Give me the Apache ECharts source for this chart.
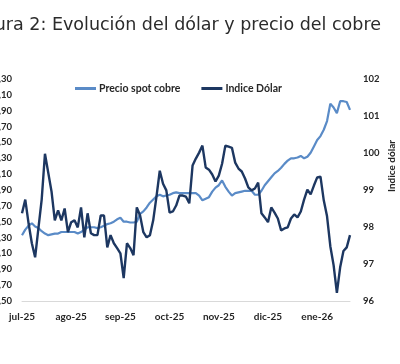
<!DOCTYPE html>
<html>
<head>
<meta charset="utf-8">
<script src="https://cdn.jsdelivr.net/npm/echarts@6/dist/echarts.min.js"></script>
<style>
html,body{margin:0;padding:0;background:#fff;}
#chart{width:400px;height:364px;}
</style>
</head>
<body>
<div id="chart"></div>
<script>
const titleText = 'Figura 2: Evolución del dólar y precio del cobre';
const seriesNames = ['Precio spot cobre', 'Indice Dólar'];
const rightAxisName = 'Indice dólar';

const dates = [
  '2025-07-01','2025-07-03','2025-07-05','2025-07-07','2025-07-09','2025-07-11','2025-07-13','2025-07-15','2025-07-17','2025-07-19','2025-07-21','2025-07-23','2025-07-25','2025-07-27','2025-07-29',
  '2025-08-01','2025-08-03','2025-08-05','2025-08-07','2025-08-09','2025-08-11','2025-08-13','2025-08-15','2025-08-17','2025-08-19','2025-08-21','2025-08-23','2025-08-25','2025-08-27','2025-08-29',
  '2025-09-01','2025-09-03','2025-09-05','2025-09-07','2025-09-09','2025-09-11','2025-09-13','2025-09-15','2025-09-17','2025-09-19','2025-09-21','2025-09-23','2025-09-25','2025-09-27','2025-09-29',
  '2025-10-01','2025-10-03','2025-10-05','2025-10-07','2025-10-09','2025-10-11','2025-10-13','2025-10-15','2025-10-17','2025-10-19','2025-10-21','2025-10-23','2025-10-25','2025-10-27','2025-10-29',
  '2025-11-01','2025-11-03','2025-11-05','2025-11-07','2025-11-09','2025-11-11','2025-11-13','2025-11-15','2025-11-17','2025-11-19','2025-11-21','2025-11-23','2025-11-25','2025-11-27','2025-11-29',
  '2025-12-01','2025-12-03','2025-12-05','2025-12-07','2025-12-09','2025-12-11','2025-12-13','2025-12-15','2025-12-17','2025-12-19','2025-12-21','2025-12-23','2025-12-25','2025-12-27','2025-12-29',
  '2026-01-01','2026-01-03','2026-01-05','2026-01-07','2026-01-09','2026-01-11','2026-01-13','2026-01-15','2026-01-17','2026-01-19','2026-01-21'
];

const monthLabels = {'01':'ene','02':'feb','03':'mar','04':'abr','05':'may','06':'jun','07':'jul','08':'ago','09':'sep','10':'oct','11':'nov','12':'dic'};

// Precio spot cobre (US$/lb), left axis
const cobre = [
  4.33,4.40,4.45,4.48,4.44,4.42,4.38,4.35,4.33,4.34,
  4.35,4.35,4.37,4.37,4.37,4.37,4.37,4.35,4.37,4.40,
  4.43,4.43,4.43,4.42,4.43,4.45,4.47,4.48,4.50,4.53,
  4.55,4.50,4.50,4.49,4.49,4.50,4.60,4.63,4.68,4.74,
  4.78,4.82,4.84,4.82,4.83,4.84,4.86,4.87,4.86,4.86,
  4.86,4.86,4.86,4.86,4.83,4.77,4.79,4.81,4.88,4.93,
  4.96,5.02,4.94,4.88,4.83,4.86,4.87,4.88,4.89,4.89,
  4.89,4.84,4.84,4.89,4.96,5.01,5.06,5.11,5.14,5.18,
  5.23,5.27,5.30,5.30,5.31,5.33,5.30,5.32,5.37,5.45,
  5.53,5.58,5.66,5.77,5.99,5.94,5.87,6.02,6.02,6.01,
  5.91
];

// Indice Dólar, right axis
const dolar = [
  98.37,98.74,98.10,97.56,97.18,97.96,98.74,99.98,99.47,98.96,
  98.18,98.45,98.18,98.50,97.86,98.13,98.18,97.99,98.53,97.72,
  98.37,97.83,97.78,97.78,98.31,98.31,97.45,97.78,97.56,97.43,
  97.29,96.62,97.56,97.43,97.24,98.53,98.31,97.86,97.72,97.78,
  98.18,98.82,99.52,99.17,98.99,98.39,98.42,98.58,98.85,98.85,
  98.82,98.64,99.66,99.85,100.01,100.20,99.61,99.55,99.42,99.23,
  99.39,99.71,100.20,100.17,100.14,99.74,99.58,99.50,99.31,99.07,
  98.99,99.04,99.20,98.37,98.26,98.13,98.53,98.39,98.23,97.91,
  97.96,97.99,98.23,98.34,98.26,98.42,98.74,99.01,98.88,99.12,
  99.34,99.36,98.72,98.29,97.48,96.97,96.22,96.91,97.35,97.45,
  97.78
];

const leftMin = 3.5, leftMax = 6.3, leftStep = 0.2;
const rightMin = 96, rightMax = 102, rightStep = 1;

const copperColor = '#5a8bc7';
const dollarColor = '#1d3761';
const labelFont = 'Lato';

function isMonthStart(idx) {
  return dates[idx].slice(8) === '01';
}

const chart = echarts.init(document.getElementById('chart'), null, {renderer: 'canvas'});
chart.setOption({
  animation: false,
  backgroundColor: '#ffffff',
  title: {
    text: titleText,
    left: -35,
    top: 11,
    textStyle: {fontFamily: 'DejaVu Sans', fontSize: 17.5, fontWeight: 'normal', color: '#2b2b2b'}
  },
  legend: {
    data: seriesNames,
    left: 70,
    top: 78,
    itemWidth: 21,
    itemHeight: 3,
    itemGap: 21,
    icon: 'rect',
    textStyle: {fontFamily: labelFont, fontSize: 10.5, fontWeight: 'bold', color: '#262626', padding: [0,0,0,-2]}
  },
  grid: {left: 22, right: 50, top: 79, bottom: 63, containLabel: false, outerBoundsMode: 'none'},
  xAxis: {
    type: 'category',
    data: dates,
    boundaryGap: false,
    axisLine: {show: true, lineStyle: {color: '#d9d9d9', width: 1}},
    axisTick: {show: false},
    axisLabel: {
      interval: function (idx) { return isMonthStart(idx); },
      formatter: function (val) { return monthLabels[val.slice(5,7)] + '-' + val.slice(2,4); },
      margin: 11,
      fontFamily: labelFont, fontSize: 10, fontWeight: 'bold', color: '#262626'
    },
    splitLine: {show: false}
  },
  yAxis: [
    {
      type: 'value',
      min: leftMin, max: leftMax, interval: leftStep,
      axisLine: {show: false}, axisTick: {show: false}, splitLine: {show: false},
      axisLabel: {
        margin: 10,
        formatter: function (v) { return v.toFixed(2).replace('.', ','); },
        fontFamily: labelFont, fontSize: 9.5, fontWeight: 'bold', color: '#262626'
      }
    },
    {
      type: 'value',
      position: 'right',
      min: rightMin, max: rightMax, interval: rightStep,
      axisLine: {show: false}, axisTick: {show: false}, splitLine: {show: false},
      axisLabel: {
        margin: 13,
        fontFamily: labelFont, fontSize: 9.5, fontWeight: 'bold', color: '#262626'
      }
    }
  ],
  graphic: [{
    type: 'text',
    x: 392,
    y: 166,
    rotation: Math.PI / 2,
    style: {
      text: rightAxisName,
      fontFamily: labelFont, fontSize: 10, fontWeight: 'bold', fill: '#262626',
      align: 'center', verticalAlign: 'middle'
    }
  }],
  series: [
    {
      name: seriesNames[0],
      type: 'line',
      yAxisIndex: 0,
      data: cobre,
      showSymbol: false,
      symbol: 'none',
      lineStyle: {color: copperColor, width: 2.2},
      itemStyle: {color: copperColor},
      z: 2
    },
    {
      name: seriesNames[1],
      type: 'line',
      yAxisIndex: 1,
      data: dolar,
      showSymbol: false,
      symbol: 'none',
      lineStyle: {color: dollarColor, width: 2.4},
      itemStyle: {color: dollarColor},
      z: 3
    }
  ]
});
</script>
</body>
</html>
